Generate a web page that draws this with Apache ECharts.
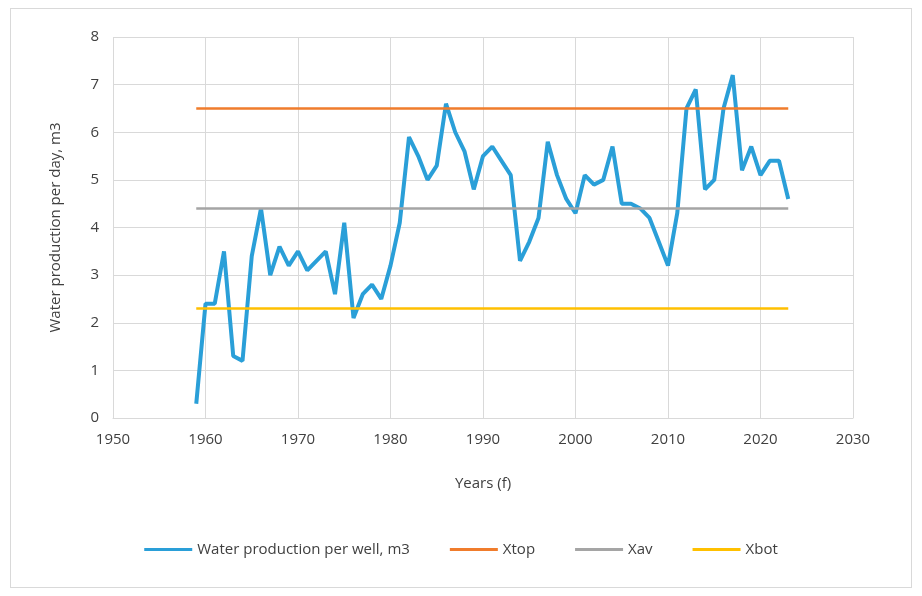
<!DOCTYPE html>
<html>
<head>
<meta charset="UTF-8">
<script src="https://cdn.jsdelivr.net/npm/echarts@6/dist/echarts.min.js"></script>
<style>
  body { margin: 0; background: #fff; }
  #box { position: absolute; left: 10px; top: 8px; width: 900px; height: 578px; border: 1px solid #d9d9d9; }
  #chart { width: 922px; height: 596px; }
</style>
</head>
<body>
<div id="box"></div>
<div id="chart"></div>
<script>
var years = [];
for (var y = 1959; y <= 2023; y++) years.push(y);
var water = [0.3, 2.4, 2.4, 3.5, 1.3, 1.2, 3.4, 4.4, 3.0, 3.6, 3.2, 3.5, 3.1, 3.3, 3.5, 2.6, 4.1, 2.1, 2.6, 2.8,
  2.5, 3.2, 4.1, 5.9, 5.5, 5.0, 5.3, 6.6, 6.0, 5.6, 4.8, 5.5, 5.7, 5.4, 5.1, 3.3, 3.7, 4.2, 5.8, 5.1,
  4.6, 4.3, 5.1, 4.9, 5.0, 5.7, 4.5, 4.5, 4.4, 4.2, 3.7, 3.2, 4.3, 6.5, 6.9, 4.8, 5.0, 6.5, 7.2, 5.2,
  5.7, 5.1, 5.4, 5.4, 4.6];
var xTop = 6.5, xAv = 4.4, xBot = 2.3;

function pairs(vals) { return years.map(function (yr, i) { return [yr, vals[i]]; }); }
function flat(v) { return years.map(function (yr) { return [yr, v]; }); }

var chart = echarts.init(document.getElementById('chart'));
var txt = { color: '#404040', fontFamily: '"Open Sans", sans-serif', fontSize: 15 };
function line(name, data, color, width) {
  return { name: name, type: 'line', data: data, symbol: 'none', lineStyle: { color: color, width: width }, itemStyle: { color: color } };
}
chart.setOption({
  animation: false,
  textStyle: txt,
  grid: { left: 113, right: 69, top: 37, bottom: 178 },
  legend: {
    bottom: 34, itemWidth: 48, itemGap: 40, icon: 'rect', itemHeight: 3,
    textStyle: txt
  },
  xAxis: {
    type: 'value', min: 1950, max: 2030, interval: 10,
    name: 'Years (f)', nameLocation: 'middle', nameGap: 58, nameTextStyle: txt,
    axisLine: { show: true, lineStyle: { color: '#d9d9d9' } }, axisTick: { show: false },
    axisLabel: Object.assign({ margin: 14, formatter: function (v) { return String(v); } }, txt),
    splitLine: { lineStyle: { color: '#d9d9d9' } }
  },
  yAxis: {
    type: 'value', min: 0, max: 8, interval: 1,
    name: 'Water production per day, m3', nameLocation: 'middle', nameGap: 50, nameTextStyle: txt,
    axisLine: { show: false }, axisTick: { show: false },
    axisLabel: Object.assign({ margin: 14 }, txt), splitLine: { lineStyle: { color: '#d9d9d9' } }
  },
  series: [
    line('Water production per well, m3', pairs(water), '#2a9fd8', 4),
    line('Xtop', flat(xTop), '#f07c2c', 2.5),
    line('Xav', flat(xAv), '#a5a5a5', 2.5),
    line('Xbot', flat(xBot), '#ffc000', 2.5)
  ]
});
</script>
</body>
</html>
